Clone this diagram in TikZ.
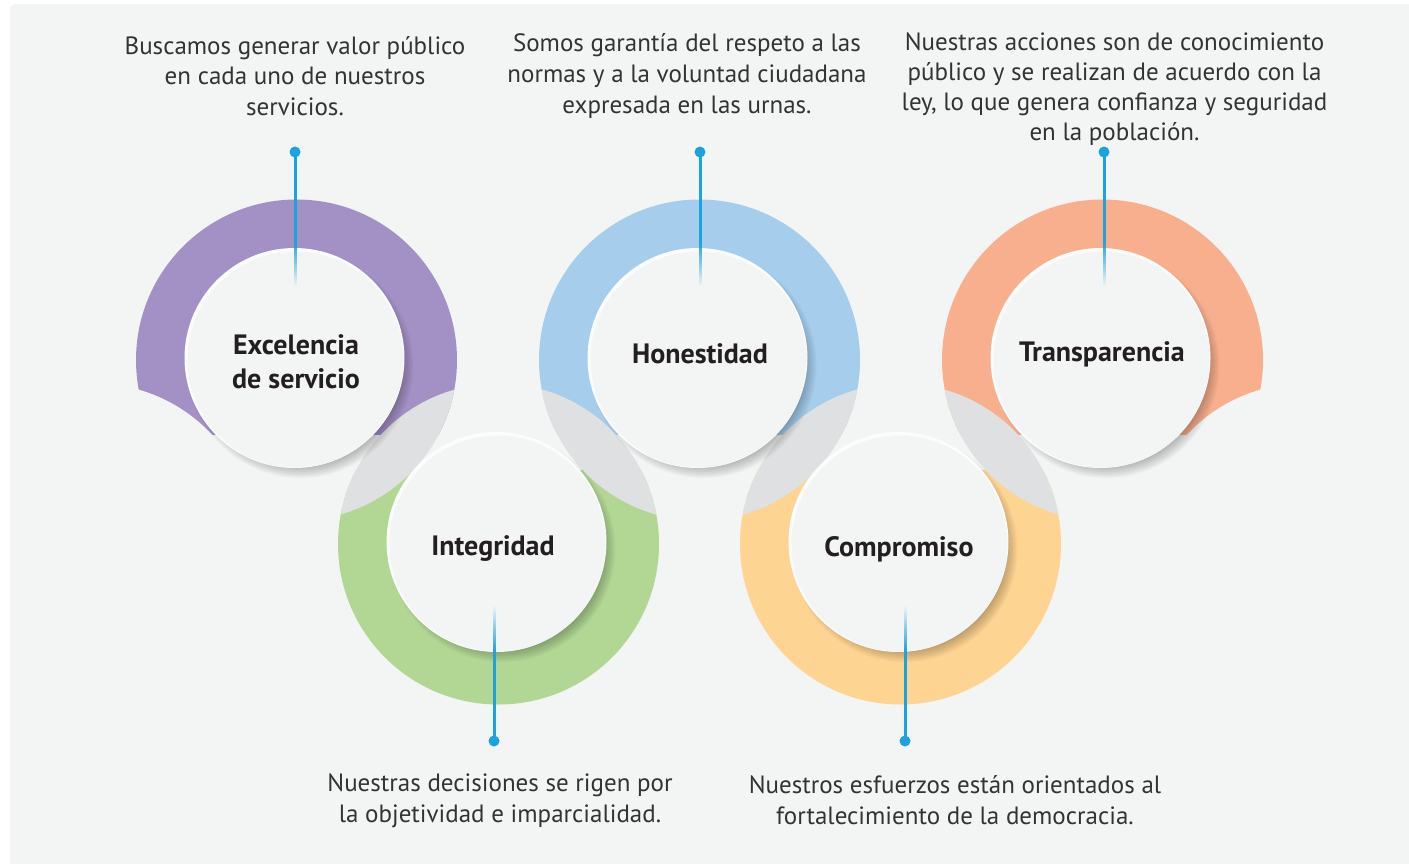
\documentclass[tikz,border=0pt]{standalone}
\usepackage{fontspec}
\setmainfont{PT Sans}
\definecolor{bgc}{HTML}{F3F4F4}
\definecolor{cpurple}{HTML}{A391C6}
\definecolor{cblue}{HTML}{A6CDEC}
\definecolor{corange}{HTML}{F8AF8E}
\definecolor{cgreen}{HTML}{B2D795}
\definecolor{cyellow}{HTML}{FED492}
\definecolor{clens}{HTML}{DFE0E1}
\definecolor{lblue}{HTML}{1AA3DD}
\definecolor{ctext}{HTML}{333333}
\definecolor{clab}{HTML}{231F20}
\tikzset{
  desc/.style={align=center, font=\fontsize{25}{30.8}\selectfont, text=ctext, inner sep=0pt},
  lab/.style={align=center, font=\fontsize{28}{34}\selectfont\bfseries, text=clab, inner sep=0pt},
  dotc/.style={fill=lblue},
}
\newcommand{\valdisk}[2]{%
  \foreach \r in {101,102.5,...,113}{\fill[black,opacity=0.03] (#1+4,#2+5) circle[radius=\r pt];}
  \fill[white!70!bgc] (#1-2,#2-2) circle[radius=110pt];
  \fill[bgc] (#1-1,#2-0.5) circle[radius=108pt];
}
\begin{document}
\begin{tikzpicture}[x=1pt,y=-1pt]
\useasboundingbox (0,0) rectangle (1409,863);
\fill[white] (0,0) rectangle (1409,863);
\fill[bgc, rounded corners=6pt] (10,4) rectangle (1430,890);
\begin{scope}
\clip (10,4) rectangle (1409,863);
% upper rings
\begin{scope}
\clip (0,0) rectangle (1409,434);
\fill[cpurple] (296.5,360) circle[radius=160.5pt];
\fill[cblue] (699.5,360) circle[radius=160.5pt];
\fill[corange] (1102.5,360) circle[radius=160.5pt];
\end{scope}
% lower rings
\begin{scope}
\clip (0,470) rectangle (1409,863);
\fill[cgreen] (498.5,544) circle[radius=160.5pt];
\fill[cyellow] (900.5,544) circle[radius=160.5pt];
\end{scope}
% outer cuts
\fill[bgc] (94.5,544) circle[radius=160.5pt];
\fill[bgc] (1304.5,544) circle[radius=160.5pt];
% grey lenses
\begin{scope}\clip (296.5,360) circle[radius=160.5pt]; \fill[clens] (498.5,544) circle[radius=160.5pt];\end{scope}
\begin{scope}\clip (699.5,360) circle[radius=160.5pt]; \fill[clens] (498.5,544) circle[radius=160.5pt];\end{scope}
\begin{scope}\clip (699.5,360) circle[radius=160.5pt]; \fill[clens] (900.5,544) circle[radius=160.5pt];\end{scope}
\begin{scope}\clip (1102.5,360) circle[radius=160.5pt]; \fill[clens] (900.5,544) circle[radius=160.5pt];\end{scope}
% white disks
\valdisk{296.5}{360}
\valdisk{699.5}{360}
\valdisk{1102.5}{360}
\valdisk{498.5}{544}
\valdisk{900.5}{544}
\end{scope}
% connectors top
\foreach \n/\x in {p/295,b/700,o/1104}{
  \coordinate (\n dot) at (\x,152);
  \coordinate (\n mid) at (\x,240);
  \coordinate (\n end) at (\x,286);
  \fill[lblue] ([xshift=-1.5pt]\n dot) rectangle ([xshift=1.5pt]\n mid);
  \foreach \i in {0,...,22}{
    \fill[lblue, fill opacity={1-\i/23}] ([xshift=-1.5pt,yshift={-2*\i pt}]\n mid) rectangle ([xshift=1.5pt,yshift={-2*\i pt-2pt}]\n mid);
  }
  \fill[dotc] (\n dot) circle[radius=5.5pt];
}
% connectors bottom
\foreach \n/\x in {g/494,y/905}{
  \coordinate (\n dot) at (\x,741);
  \coordinate (\n mid) at (\x,653);
  \coordinate (\n end) at (\x,607);
  \fill[lblue] ([xshift=-1.5pt]\n mid) rectangle ([xshift=1.5pt]\n dot);
  \foreach \i in {0,...,22}{
    \fill[lblue, fill opacity={1-\i/23}] ([xshift=-1.5pt,yshift={2*\i pt}]\n mid) rectangle ([xshift=1.5pt,yshift={2*\i pt+2pt}]\n mid);
  }
  \fill[dotc] (\n dot) circle[radius=5.5pt];
}
% labels
\node[lab] (lp) at (296,362) {Excelencia\\de servicio};
\node[lab] (lb) at (700,354) {Honestidad};
\node[lab] (lo) at (1102,354) {Transparencia};
\node[lab] (lg) at (493,549) {Integridad};
\node[lab] (ly) at (899,549) {Compromiso};
% descriptions
\node[desc] (dp) at (295,76) {Buscamos generar valor público\\en cada uno de nuestros\\servicios.};
\node[desc] (db) at (687,76) {Somos garantía del respeto a las\\normas y a la voluntad ciudadana\\expresada en las urnas.};
\node[desc, font=\fontsize{25}{30}\selectfont] (do) at (1114.5,89) {Nuestras acciones son de conocimiento\\público y se realizan de acuerdo con la\\ley, lo que genera confianza y seguridad\\en la población.};
\node[desc] (dg) at (500,800.5) {Nuestras decisiones se rigen por\\la objetividad e imparcialidad.};
\node[desc] (dy) at (955,800.5) {Nuestros esfuerzos están orientados al\\fortalecimiento de la democracia.};
\end{tikzpicture}
\end{document}
